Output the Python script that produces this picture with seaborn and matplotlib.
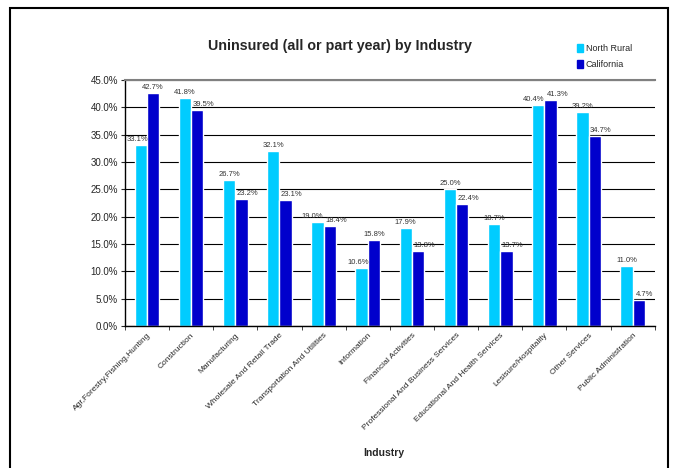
import matplotlib
matplotlib.use("Agg")
import matplotlib.pyplot as plt
import matplotlib.patches as mpatches
from matplotlib.ticker import PercentFormatter
import seaborn as sns
import pandas as pd

# Dados do gráfico
industries = ["Agr,Forestry,Fishing,Hunting", "Construction", "Manufacturing",
              "Wholesale And Retail Trade", "Transportation And Utilities",
              "Information", "Financial Activities",
              "Professional And Business Services",
              "Educational And Health Services", "Lesisure/Hospitality",
              "Other Services", "Public Administration"]
north_rural = [33.1, 41.8, 26.7, 32.1, 19.0, 10.6, 17.9, 25.0, 18.7, 40.4, 39.2, 11.0]
california = [42.7, 39.5, 23.2, 23.1, 18.4, 15.8, 13.8, 22.4, 13.7, 41.3, 34.7, 4.7]
series = ["North Rural", "California"]
colors = ["#00CCFF", "#0000CC"]

df = pd.DataFrame({"Industry": industries * 2,
                   "Value": north_rural + california,
                   "Series": [series[0]] * 12 + [series[1]] * 12})

sns.set_style("white")
plt.rcParams["font.family"] = ["Liberation Sans", "DejaVu Sans"]

fig = plt.figure(figsize=(6.75, 4.68), dpi=100)
ax = fig.add_axes([0.185, 0.303, 0.785, 0.526])

sns.barplot(data=df, x="Industry", y="Value", hue="Series", hue_order=series,
            palette=colors, width=0.56, saturation=1, ax=ax, legend=False)

# rótulos de valor sobre as barras (deslocados como no Excel para não colidir)
light, dark = ax.containers[0], ax.containers[1]
for i, (pl, pd_) in enumerate(zip(light.patches, dark.patches)):
    a, b = north_rural[i], california[i]
    if abs(a - b) < 1.5:
        dx_l, dx_d = -5, 7
    else:
        dx_l = -3 if b > a else 0
        dx_d = 6 if a > b else 0
    for p, v, dx in [(pl, a, dx_l), (pd_, b, dx_d)]:
        ax.annotate(f"{v:.1f}%", (p.get_x() + p.get_width() / 2, v),
                    xytext=(dx, 2), textcoords="offset pixels",
                    ha="center", va="bottom", fontsize=5.5, color="#333333")

ax.set_ylim(0, 45)
ax.set_yticks(range(0, 50, 5))
ax.yaxis.set_major_formatter(PercentFormatter(decimals=1))
ax.tick_params(axis="y", labelsize=7, length=3, direction="out", left=True, pad=2)
ax.grid(axis="y", color="black", linewidth=0.8)
ax.set_axisbelow(True)

ax.set_xlim(-0.5, 11.5)
ax.set_xticks(range(12))
ax.set_xticklabels(industries, rotation=45, ha="right", rotation_mode="anchor",
                   fontsize=6)
ax.tick_params(axis="x", length=0, pad=4)
ax.set_xticks([i - 0.5 for i in range(13)], minor=True)
ax.tick_params(axis="x", which="minor", length=3, direction="out", bottom=True)

for s in ["left", "bottom"]:
    ax.spines[s].set_color("black")
    ax.spines[s].set_linewidth(1)
ax.spines["top"].set_color("#808080")
ax.spines["top"].set_linewidth(1.5)
ax.spines["right"].set_visible(False)

ax.set_xlabel("")
ax.set_ylabel("")
fig.text(0.569, 0.025, "Industry", ha="center", fontsize=7.5, fontweight="bold")
fig.text(0.504, 0.893, "Uninsured (all or part year) by Industry", ha="center",
         fontsize=10.3, fontweight="bold")

handles = [mpatches.Patch(color=c, label=s) for c, s in zip(colors, series)]
fig.legend(handles=handles, loc="upper left", bbox_to_anchor=(0.848, 0.915),
           frameon=False, fontsize=6.5, handlelength=0.7, handleheight=1.0,
           handletextpad=0.3, labelspacing=0.75, borderpad=0)

fig.patches.append(mpatches.Rectangle((10 / 675, -0.05), 658 / 675, 1.05 - 8 / 468,
                                      transform=fig.transFigure, fill=False,
                                      edgecolor="black", linewidth=1.5))

fig.savefig("out.png", dpi=100)
